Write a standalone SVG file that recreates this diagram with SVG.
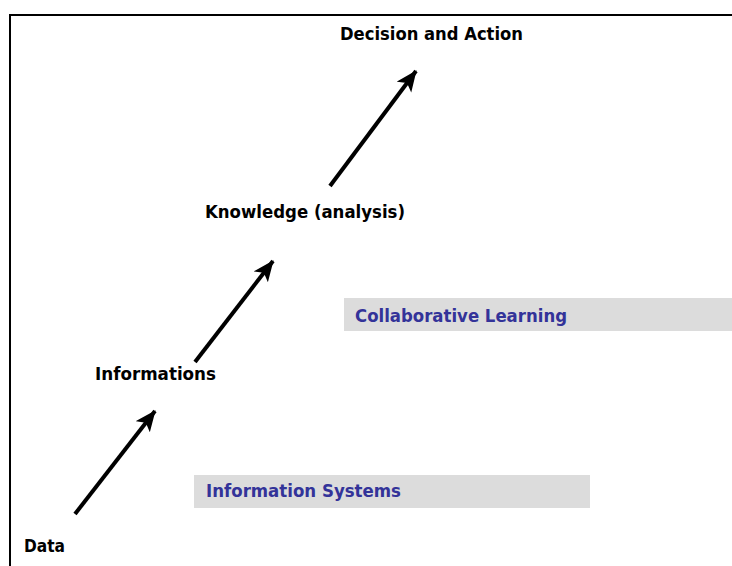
<svg xmlns="http://www.w3.org/2000/svg" width="732" height="566" viewBox="0 0 732 566">
  <style>
    .lbl { font-family: "DejaVu Sans", Verdana, sans-serif; font-weight: bold; font-size: 17px; fill: #000; }
    .band-text { font-family: "DejaVu Sans", Verdana, sans-serif; font-weight: bold; font-size: 17px; fill: #333399; }
    .band { fill: #dcdcdc; }
    .frame { stroke: #000; stroke-width: 2; fill: none; }
    .arrow { stroke: #000; stroke-width: 4; fill: none; marker-end: url(#head); }
  </style>
  <defs>
    <marker id="head" markerUnits="userSpaceOnUse" markerWidth="24" markerHeight="20" refX="20" refY="9" orient="auto">
      <path d="M0,0 L21,9 L0,18 L5,9 Z" fill="#000"/>
    </marker>
  </defs>
  <rect width="732" height="566" fill="#fff"/>
  <!-- frame: top and left edges only -->
  <path class="frame" d="M10,566 V15 H732"/>

  <g id="band-is">
    <rect class="band" x="194" y="475" width="396" height="33"/>
    <text class="band-text" x="206" y="497" textLength="195" lengthAdjust="spacingAndGlyphs">Information Systems</text>
  </g>
  <g id="band-cl">
    <rect class="band" x="344" y="298" width="388" height="33"/>
    <text class="band-text" x="355" y="322" textLength="212" lengthAdjust="spacingAndGlyphs">Collaborative Learning</text>
  </g>

  <g id="data">
    <text class="lbl" x="24" y="552" textLength="41" lengthAdjust="spacingAndGlyphs">Data</text>
  </g>
  <g id="informations">
    <text class="lbl" x="95" y="380" textLength="121" lengthAdjust="spacingAndGlyphs">Informations</text>
  </g>
  <g id="knowledge">
    <text class="lbl" x="205" y="218" textLength="200" lengthAdjust="spacingAndGlyphs">Knowledge (analysis)</text>
  </g>
  <g id="decision">
    <text class="lbl" x="340" y="40" textLength="183" lengthAdjust="spacingAndGlyphs">Decision and Action</text>
  </g>

  <g id="connectors">
    <line class="arrow" x1="75" y1="514" x2="155" y2="411"/>
    <line class="arrow" x1="195" y1="362" x2="273" y2="261"/>
    <line class="arrow" x1="330" y1="186" x2="416" y2="71"/>
  </g>
</svg>
